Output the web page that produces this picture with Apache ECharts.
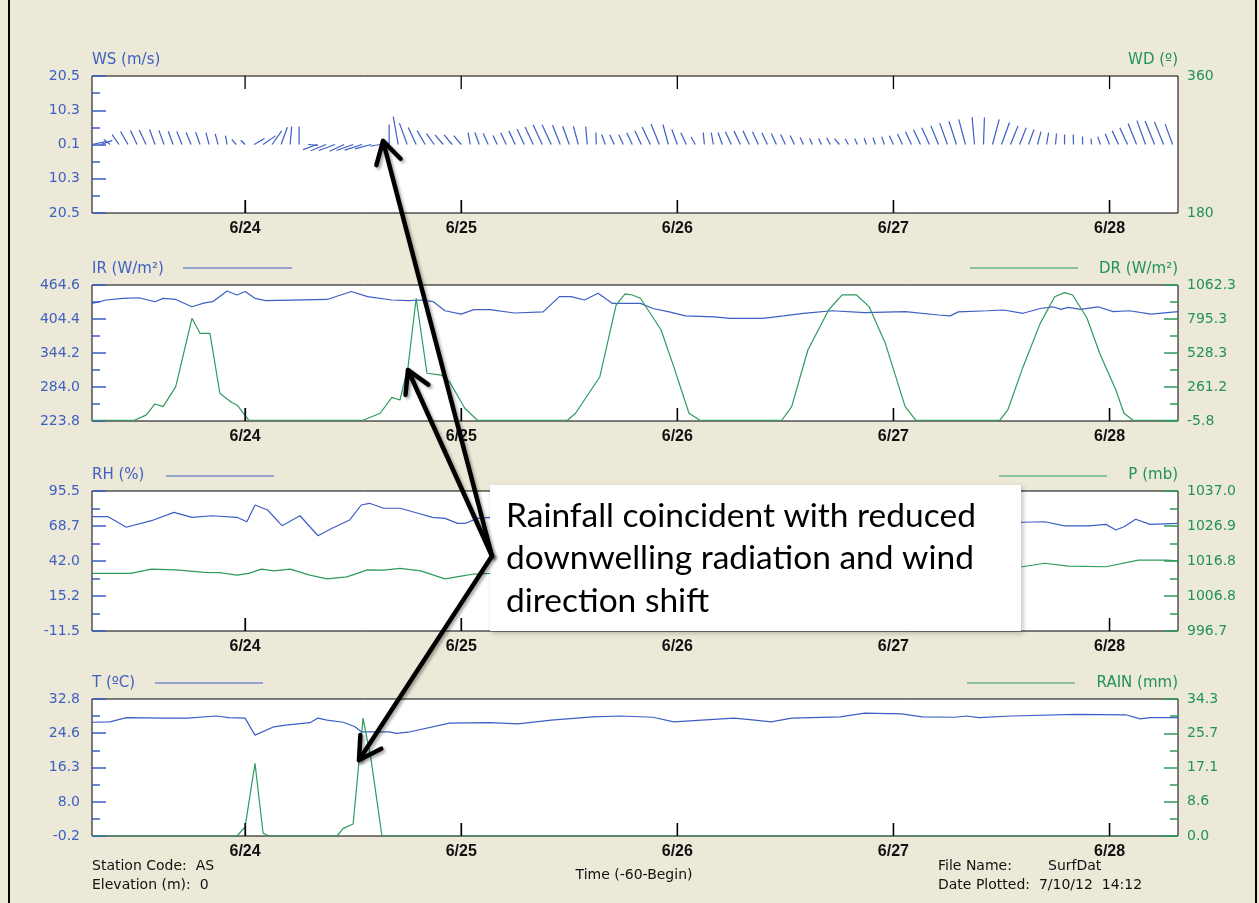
<!DOCTYPE html>
<html><head><meta charset="utf-8">
<script src="https://cdn.jsdelivr.net/npm/echarts@6/dist/echarts.min.js"></script>
<style>html,body{margin:0;padding:0;background:#ECE9D8;}#c{width:1259px;height:903px;}</style>
</head><body><div id="c"></div>
<script>
// ---------- data (x = hours from 6/24 00:00) ----------
const dayTicks = [0, 24, 48, 72, 96];
const dayLabels = ['6/24', '6/25', '6/26', '6/27', '6/28'];
const wsTickVals = [-20.5, -10.25, 0, 10.25, 20.5];
const wsTickLabels = ['20.5', '10.3', '0.1', '10.3', '20.5'];
const wdTicks = [180, 360];
const irTicks = [223.8, 284.0, 344.2, 404.4, 464.6];
const drTicks = [-5.8, 261.2, 528.3, 795.3, 1062.3];
const rhTicks = [-11.5, 15.2, 42.0, 68.7, 95.5];
const pTicks = [996.7, 1006.8, 1016.8, 1026.9, 1037.0];
const tTicks = [-0.2, 8.0, 16.3, 24.6, 32.8];
const rainTicks = [0.0, 8.6, 17.1, 25.7, 34.3];

// wind: [hour, speed m/s, direction deg]
const windData = [[-17,4.2,78],[-16,3.6,70],[-15,2.4,310],[-14,3.6,325],[-13,4.5,330],[-12,4.6,335],[-11,4.8,335],[-10,4.8,340],[-9,4.5,340],[-8,4.2,340],[-7,4.2,338],[-6,3.9,338],[-5,3.9,340],[-4,3.6,345],[-3,3.3,345],[-2,2.7,350],[-1,2.0,320],[0,1.8,315],[1,3.6,60],[2,4.5,55],[3,5.0,35],[4,5.5,20],[5,5.4,5],[6,5.4,0],[7,3.0,95],[8,4.5,250],[9,5.0,248],[10,5.2,250],[11,4.8,245],[12,5.3,250],[13,5.5,252],[14,5.0,255],[15,3.0,260],[16,6.0,0],[17,8.5,350],[18,6.8,340],[19,5.6,335],[20,4.8,330],[21,4.0,325],[22,3.8,320],[23,3.8,320],[24,3.5,320],[25,3.6,350],[26,3.8,340],[27,3.6,335],[28,3.0,335],[29,3.9,335],[30,4.5,335],[31,5.1,335],[32,5.8,335],[33,6.5,335],[34,6.5,335],[35,6.2,338],[36,5.8,340],[37,5.6,345],[38,5.4,355],[39,3.6,358],[40,3.2,340],[41,3.2,335],[42,3.2,335],[43,3.9,335],[44,4.5,335],[45,5.8,335],[46,6.6,338],[47,6.2,345],[48,4.8,340],[49,3.9,335],[50,2.6,330],[51,3.6,355],[52,3.6,350],[53,3.8,340],[54,4.2,335],[55,4.5,335],[56,4.5,335],[57,4.2,335],[58,3.9,335],[59,3.6,335],[60,3.3,335],[61,3.0,335],[62,2.3,335],[63,2.0,335],[64,2.0,335],[65,2.3,330],[66,2.3,320],[67,2.0,330],[68,2.0,335],[69,2.0,340],[70,2.2,340],[71,2.5,340],[72,2.9,335],[73,3.5,335],[74,4.2,335],[75,4.9,335],[76,5.5,335],[77,6.1,338],[78,6.8,340],[79,7.3,342],[80,7.8,345],[81,8.2,355],[82,8.1,2],[83,7.8,15],[84,7.0,20],[85,6.0,22],[86,5.4,22],[87,4.8,20],[88,4.0,15],[89,3.6,10],[90,3.3,5],[91,3.0,0],[92,3.0,358],[93,2.4,0],[94,1.8,355],[95,2.5,340],[96,3.5,338],[97,4.5,335],[98,5.5,335],[99,6.8,338],[100,7.6,340],[101,7.6,338],[102,7.3,338],[103,6.5,340]];

const irData = [[-17,432],[-15.4,438],[-13.6,441],[-11.8,442],[-10,435],[-9.1,441],[-7.7,439],[-5.9,426],[-4.5,433],[-3.6,435],[-2,454],[-0.9,447],[0,453],[1.1,441],[2.3,437],[9.1,439],[11.8,453],[13.6,444],[16.3,438],[18.1,437],[19.5,438],[20.9,435],[22.2,419],[24,413],[25.4,421],[27.2,421],[29.9,415],[33.1,417],[34.9,444],[36.2,444],[37.7,438],[39.2,450],[40.8,432],[43.9,432],[45.3,423],[47.1,417],[48.9,410],[52.1,408],[53.9,405.6],[57.5,405.6],[59.8,410],[62,414.5],[65.2,419],[68.8,415.6],[73.3,417.4],[77,411.5],[78.3,410],[79.2,417],[82.4,419],[84.2,420.3],[86.4,414.5],[88.3,423],[89.7,426],[90.6,421.5],[91.4,425],[92.8,421.5],[94.7,426],[96.4,417.4],[98.2,419],[100.6,413],[103.6,417.4]];

const drData = [[-17,0],[-12.3,0],[-11,40],[-10,128],[-9.1,107],[-7.7,264],[-5.9,801],[-5,683],[-3.9,683],[-2.8,212],[-1.5,140],[-0.9,120],[0.4,2],[13.1,0],[15,55],[16.3,180],[17.2,159],[18.1,421],[19,958],[20.2,369],[21.8,355],[22.7,303],[24.4,94],[25.8,0],[35.8,0],[36.7,55],[39.4,342],[41.2,905],[42.2,992],[43,984],[43.9,958],[46.2,709],[47.6,421],[49.3,55],[50.5,0],[59.6,0],[60.7,107],[62.5,552],[64.8,866],[66.3,984],[67.9,984],[69.3,892],[71.1,604],[73.3,107],[74.5,0],[83.8,0],[84.7,81],[86.4,421],[88.3,761],[89.9,970],[91,1002],[91.9,984],[93.5,801],[94.9,526],[96.7,238],[97.6,55],[98.6,0],[103.6,0]];

const rhData = [[-17,75.9],[-15.2,75.9],[-13.2,67.8],[-10.4,72.8],[-7.9,79.2],[-5.9,75.4],[-3.7,76.6],[-0.9,75.4],[0.2,72.0],[1.1,84.8],[2.5,81],[4.1,69],[6.1,76.6],[8.1,61.3],[9.5,66.5],[11.6,73.3],[12.9,84.8],[13.8,86.1],[15.4,82.3],[17.2,82.3],[19,78.9],[20.8,75.4],[22.2,74.6],[23.6,70.8],[24.5,70.8],[25.8,74.6],[27.2,75.4],[30,73],[34,70],[38,76],[42,79],[46,74],[50,71],[54,73],[58,77],[62,79],[66,75],[70,72],[74,70],[78,73],[82,74],[86.3,71.6],[88.8,72.0],[91,68.8],[93.7,68.8],[95.6,70.0],[96.7,65.7],[97.6,68.2],[98.9,73.9],[100.5,70.0],[103.6,70.8]];

const pData = [[-17,1013.3],[-12.7,1013.3],[-10.4,1014.5],[-7.7,1014.3],[-4.5,1013.6],[-2.8,1013.5],[-0.9,1012.8],[0.4,1013.3],[1.8,1014.5],[3.2,1014.0],[5,1014.5],[7.2,1012.8],[9.1,1011.7],[11.3,1012.3],[13.6,1014.3],[15.4,1014.2],[17.2,1014.7],[19.5,1014.0],[22.2,1011.7],[24,1012.5],[25.4,1013.1],[27.2,1013.3],[31,1014.0],[35,1014.8],[40,1014.3],[45,1013.6],[50,1014.2],[55,1015.2],[60,1014.6],[64,1014.0],[68,1014.5],[72,1015.4],[76,1015.9],[80,1015.3],[83,1014.9],[86.3,1015.2],[88.8,1016.2],[91.4,1015.4],[95.6,1015.2],[99.2,1017.1],[102.3,1017.1],[103.6,1016.9]];

const tData = [[-17,27.2],[-15,27.3],[-13.2,28.3],[-9.1,28.2],[-6.4,28.2],[-3.2,28.7],[-1.8,28.3],[0,28.2],[1.1,24.1],[3.2,26.1],[4.5,26.5],[7.2,27.1],[8.1,28.2],[9.1,27.7],[10.9,27.2],[12.2,26.1],[12.9,24.9],[16,24.9],[16.8,24.5],[18.1,24.8],[22.7,27.0],[27.2,27.1],[30.3,26.8],[34,27.7],[38.6,28.5],[41.7,28.7],[45.3,28.4],[47.6,27.3],[50.7,27.7],[54.3,28.2],[56.6,27.7],[58.4,27.3],[60.7,28.2],[66.1,28.5],[68.8,29.4],[72.9,29.2],[75.2,28.5],[78.8,28.4],[80.1,28.7],[81.5,28.3],[85.1,28.7],[92.3,29.1],[97.8,29.0],[99.4,28.0],[100.5,28.3],[103.6,28.3]];

const rainData = [[-17,0],[-0.9,0],[0,2.3],[1.1,18.2],[2,0.7],[2.7,0],[10.2,0],[10.9,1.9],[12,3.0],[13.1,29.5],[14,19.0],[15.2,0],[103.6,0]];

// ---------- styling ----------
const BLUE = '#3D5EC4', BLUE_T = '#3F60C0', GREEN = '#2E9A5C', GREEN_T = '#22915A';
const FONT = "'DejaVu Sans', sans-serif";
const XMIN = -17, XMAX = 103.6;
const grids = [
  {left: 92, top: 76, width: 1086, height: 137},
  {left: 92, top: 285, width: 1086, height: 136},
  {left: 92, top: 491, width: 1086, height: 140},
  {left: 92, top: 699, width: 1086, height: 137}
];
const leftTicks = [wsTickVals, irTicks, rhTicks, tTicks];
function mids(t) { return t.slice(1).map((v, k) => (v + t[k]) / 2); }

const xAxes = grids.map((g, i) => ({
  type: 'value', gridIndex: i, min: XMIN, max: XMAX, position: 'bottom',
  axisLine: {show: false, onZero: false}, splitLine: {show: false},
  axisTick: {show: true, inside: true, length: 13, customValues: dayTicks, lineStyle: {color: '#000', width: 1.3}},
  axisLabel: {customValues: dayTicks, margin: 8, color: '#111', fontWeight: 'bold', fontSize: 16,
    fontFamily: "'Liberation Sans', Arial, sans-serif",
    formatter: v => dayLabels[dayTicks.indexOf(v)]}
}));

function yPair(gi, side, ticks, min, max, color, tcolor, name, fmt, tickShow) {
  const major = {
    type: 'value', gridIndex: gi, position: side, min: min, max: max,
    axisLine: {show: false, onZero: false}, splitLine: {show: false},
    axisTick: {show: tickShow, inside: true, length: 14, customValues: ticks, lineStyle: {color: color, width: 1.5}},
    axisLabel: {customValues: ticks, color: tcolor, fontSize: 14, fontFamily: FONT,
      margin: side === 'left' ? 12 : 9, formatter: fmt},
    name: name, nameLocation: 'end', nameGap: 16,
    nameTextStyle: {color: tcolor, fontSize: 15, fontFamily: FONT, align: side === 'left' ? 'left' : 'right', verticalAlign: 'middle'}
  };
  const minor = {
    type: 'value', gridIndex: gi, position: side, min: min, max: max,
    axisLine: {show: false, onZero: false}, splitLine: {show: false}, axisLabel: {show: false},
    axisTick: {show: tickShow, inside: true, length: 8, customValues: mids(ticks), lineStyle: {color: color, width: 1.5}}
  };
  return [major, minor];
}
const f1 = v => v.toFixed(1);
const yAxes = [].concat(
  yPair(0, 'left', wsTickVals, -20.5, 20.5, BLUE, BLUE_T, 'WS (m/s)', v => wsTickLabels[wsTickVals.findIndex(t => Math.abs(t - v) < 1e-6)], true),
  yPair(0, 'right', wdTicks, 180, 360, GREEN, GREEN_T, 'WD (º)', v => v.toFixed(0), false),
  yPair(1, 'left', irTicks, irTicks[0], irTicks[4], BLUE, BLUE_T, 'IR (W/m²)', f1, true),
  yPair(1, 'right', drTicks, drTicks[0], drTicks[4], GREEN, GREEN_T, 'DR (W/m²)', f1, true),
  yPair(2, 'left', rhTicks, rhTicks[0], rhTicks[4], BLUE, BLUE_T, 'RH (%)', f1, true),
  yPair(2, 'right', pTicks, pTicks[0], pTicks[4], GREEN, GREEN_T, 'P (mb)', f1, true),
  yPair(3, 'left', tTicks, tTicks[0], tTicks[4], BLUE, BLUE_T, 'T (ºC)', f1, true),
  yPair(3, 'right', rainTicks, rainTicks[0], rainTicks[4], GREEN, GREEN_T, 'RAIN (mm)', f1, true)
);

function lineSeries(name, data, xi, yi, color) {
  return {name: name, type: 'line', data: data, xAxisIndex: xi, yAxisIndex: yi, showSymbol: false,
    lineStyle: {color: color, width: 1.2}, itemStyle: {color: color}, animation: false, z: 3};
}

const series = [
  {
    name: 'WS/WD', type: 'custom', xAxisIndex: 0, yAxisIndex: 0, data: windData, animation: false,
    encode: {x: 0, y: 1},
    renderItem: function (params, api) {
      const h = api.value(0), sp = api.value(1), dir = api.value(2);
      const base = api.coord([h, 0]);
      const len = api.size([0, sp])[1];
      const r = dir * Math.PI / 180;
      return {type: 'line', shape: {x1: base[0], y1: base[1], x2: base[0] + len * Math.sin(r), y2: base[1] - len * Math.cos(r)},
        style: {stroke: BLUE, lineWidth: 1.2}};
    }
  },
  lineSeries('IR', irData, 1, 4, BLUE),
  lineSeries('DR', drData, 1, 6, GREEN),
  lineSeries('RH', rhData, 2, 8, BLUE),
  lineSeries('P', pData, 2, 10, GREEN),
  lineSeries('T', tData, 3, 12, BLUE),
  lineSeries('RAIN', rainData, 3, 14, GREEN)
];
// day tick marks: short vertical segments through each panel's scales (13 px tall)
grids.forEach((g, i) => {
  const t = leftTicks[i], lo = t[0], hi = t[t.length - 1], d = (hi - lo) * 13 / g.height;
  dayTicks.forEach(day => {
    const segs = [[[day, lo], [day, lo + d]]];
    if (i === 0) segs.push([[day, hi], [day, hi - d]]);
    segs.forEach(sg => series.push({type: 'line', xAxisIndex: i, yAxisIndex: 4 * i, data: sg, showSymbol: false,
      silent: true, animation: false, z: 5, lineStyle: {color: '#000', width: 1.3}, tooltip: {show: false}}));
  });
});

// ---------- annotation graphics ----------
const graphics = [];
graphics.push({type: 'line', shape: {x1: 9, y1: 0, x2: 9, y2: 903}, style: {stroke: '#000', lineWidth: 2}});
graphics.push({type: 'line', shape: {x1: 1256, y1: 0, x2: 1256, y2: 903}, style: {stroke: '#000', lineWidth: 2}});
// legend sample lines
[[183, 292, 268, BLUE], [970, 1078, 268, GREEN], [166, 274, 476, BLUE], [999, 1107, 476, GREEN], [155, 263, 683, BLUE], [967, 1075, 683, GREEN]]
  .forEach(s => graphics.push({type: 'line', shape: {x1: s[0], y1: s[2], x2: s[1], y2: s[2]}, style: {stroke: s[3], lineWidth: 1.2}}));
// footer
const footStyle = {fill: '#111', font: "14px 'DejaVu Sans', sans-serif", textVerticalAlign: 'middle'};
[['Station Code:  AS', 92, 866], ['Elevation (m):  0', 92, 885], ['File Name:', 938, 866], ['SurfDat', 1048, 866],
 ['Date Plotted:  7/10/12  14:12', 938, 885]].forEach(t =>
  graphics.push({type: 'text', x: t[1], y: t[2], style: Object.assign({text: t[0]}, footStyle)}));
graphics.push({type: 'text', x: 634, y: 875, style: Object.assign({text: 'Time (-60-Begin)', textAlign: 'center'}, footStyle)});

// callout box
graphics.push({type: 'rect', z: 100, shape: {x: 490, y: 485, width: 531, height: 146},
  style: {fill: '#fff', shadowBlur: 5, shadowOffsetX: 2, shadowOffsetY: 2, shadowColor: 'rgba(0,0,0,0.25)'}});
['Rainfall coincident with reduced', 'downwelling radiation and wind', 'direction shift'].forEach((t, k) =>
  graphics.push({type: 'text', z: 101, x: 506, y: 516 + k * 42.5,
    style: {text: t, fill: '#000', font: "33.5px Lato, 'Noto Sans', sans-serif", textVerticalAlign: 'middle'}}));
// arrows
const S = [492, 556];
[[383, 141], [408, 370], [359, 760]].forEach(T => {
  const dx = S[0] - T[0], dy = S[1] - T[1], L = Math.hypot(dx, dy);
  const ux = dx / L, uy = dy / L, a = Math.PI / 6, w = 25;
  const w1 = [T[0] + w * (ux * Math.cos(a) - uy * Math.sin(a)), T[1] + w * (ux * Math.sin(a) + uy * Math.cos(a))];
  const w2 = [T[0] + w * (ux * Math.cos(-a) - uy * Math.sin(-a)), T[1] + w * (ux * Math.sin(-a) + uy * Math.cos(-a))];
  const st = {stroke: '#000', lineWidth: 4.5, lineCap: 'round', lineJoin: 'round', shadowBlur: 3, shadowOffsetX: 2, shadowOffsetY: 2, shadowColor: 'rgba(0,0,0,0.35)'};
  graphics.push({type: 'line', z: 102, shape: {x1: S[0], y1: S[1], x2: T[0], y2: T[1]}, style: st});
  graphics.push({type: 'polyline', z: 102, shape: {points: [w1, T, w2]}, style: Object.assign({fill: null}, st)});
});

const chart = echarts.init(document.getElementById('c'), null, {renderer: 'canvas'});
chart.setOption({
  animation: false,
  backgroundColor: '#ECE9D8',
  grid: grids.map(g => Object.assign({show: true, backgroundColor: '#fff', borderColor: '#000', borderWidth: 1}, g)),
  xAxis: xAxes,
  yAxis: yAxes,
  series: series,
  graphic: graphics
});
</script></body></html>
